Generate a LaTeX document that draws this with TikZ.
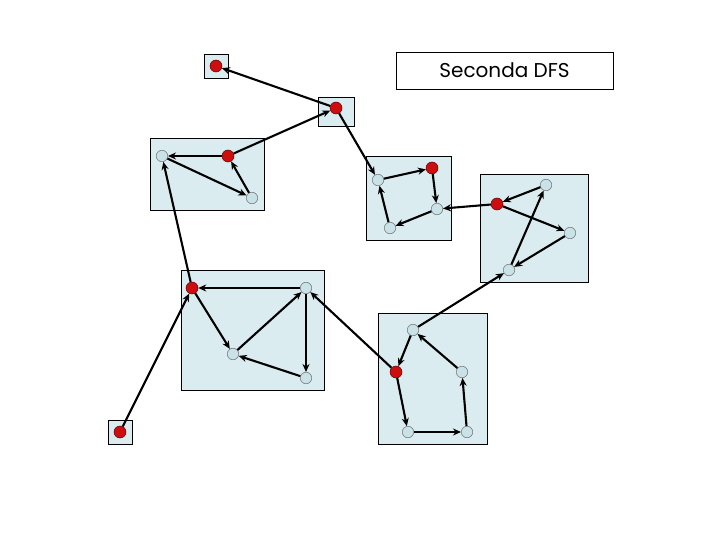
\documentclass[tikz,border=0pt]{standalone}
\usepackage{fontspec}
\newfontfamily\titlefont{Poppins}
\usetikzlibrary{arrows.meta}
\definecolor{sccFill}{RGB}{219,236,240}
\definecolor{vxBlue}{RGB}{200,226,232}
\definecolor{vxRed}{RGB}{206,14,14}

\begin{document}
\begin{tikzpicture}[x=1pt,y=-1pt,
    scc/.style={draw=black, line width=0.7pt, fill=sccFill},
    vx/.style={circle, draw=black!55, line width=0.5pt, fill=vxBlue, minimum size=11.5pt, inner sep=0pt},
    root/.style={vx, fill=vxRed, draw=red!35!black, minimum size=12pt},
    link/.style={line width=2.1pt, -{Stealth[length=8pt,width=7pt]}}]
    \useasboundingbox (0,0) rectangle (720,540);

    \node[draw, line width=0.7pt, minimum width=217pt, minimum height=37pt] (title) at (504.5,70.5)
        {\titlefont\fontsize{20}{23}\selectfont Seconda DFS};

    \draw[scc] (204,54) rectangle (228,78);
    \draw[scc] (318,97) rectangle (354,126);
    \draw[scc] (150,138) rectangle (264,210);
    \draw[scc] (366,156) rectangle (451,240);
    \draw[scc] (480,174) rectangle (588,282);
    \draw[scc] (181,270) rectangle (324,390);
    \draw[scc] (108,420) rectangle (132,444);
    \draw[scc] (378,313) rectangle (487,444);

    \node[root] (r1) at (120,432) {};
    \node[root] (r2) at (192,288) {};
    \node[vx] (b1) at (306,288) {};
    \node[vx] (b2) at (233,354) {};
    \node[vx] (b3) at (306,378) {};
    \node[root] (r3) at (396,372) {};
    \node[vx] (c1) at (413,330) {};
    \node[vx] (c2) at (462,372) {};
    \node[vx] (c3) at (408,432) {};
    \node[vx] (c4) at (467,432) {};
    \node[root] (r4) at (228,156) {};
    \node[vx] (a1) at (162,156) {};
    \node[vx] (a2) at (252,198) {};
    \node[root] (r5) at (336,108) {};
    \node[root] (r6) at (216,66) {};
    \node[root] (r7) at (432,168) {};
    \node[vx] (d1) at (378,180) {};
    \node[vx] (d2) at (437,209) {};
    \node[vx] (d3) at (390,228) {};
    \node[root] (r8) at (497,204) {};
    \node[vx] (e1) at (546,185) {};
    \node[vx] (e2) at (570,233) {};
    \node[vx] (e3) at (509,270) {};

    \draw[link] (r1) -- (r2);
    \draw[link] (b1) -- (r2);
    \draw[link] (r2) -- (b2);
    \draw[link] (b2) -- (b1);
    \draw[link] (b1) -- (b3);
    \draw[link] (b3) -- (b2);
    \draw[link] (r3) -- (b1);
    \draw[link] (c1) -- (r3);
    \draw[link] (r3) -- (c3);
    \draw[link] (c3) -- (c4);
    \draw[link] (c4) -- (c2);
    \draw[link] (c2) -- (c1);
    \draw[link] (c1) -- (e3);
    \draw[link] (r2) -- (a1);
    \draw[link] (r4) -- (a1);
    \draw[link] (a1) -- (a2);
    \draw[link] (a2) -- (r4);
    \draw[link] (r4) -- (r5);
    \draw[link] (r5) -- (r6);
    \draw[link] (r5) -- (d1);
    \draw[link] (d1) -- (r7);
    \draw[link] (r7) -- (d2);
    \draw[link] (d2) -- (d3);
    \draw[link] (d3) -- (d1);
    \draw[link] (r8) -- (d2);
    \draw[link] (e1) -- (r8);
    \draw[link] (r8) -- (e2);
    \draw[link] (e2) -- (e3);
    \draw[link] (e3) -- (e1);
\end{tikzpicture}
\end{document}
